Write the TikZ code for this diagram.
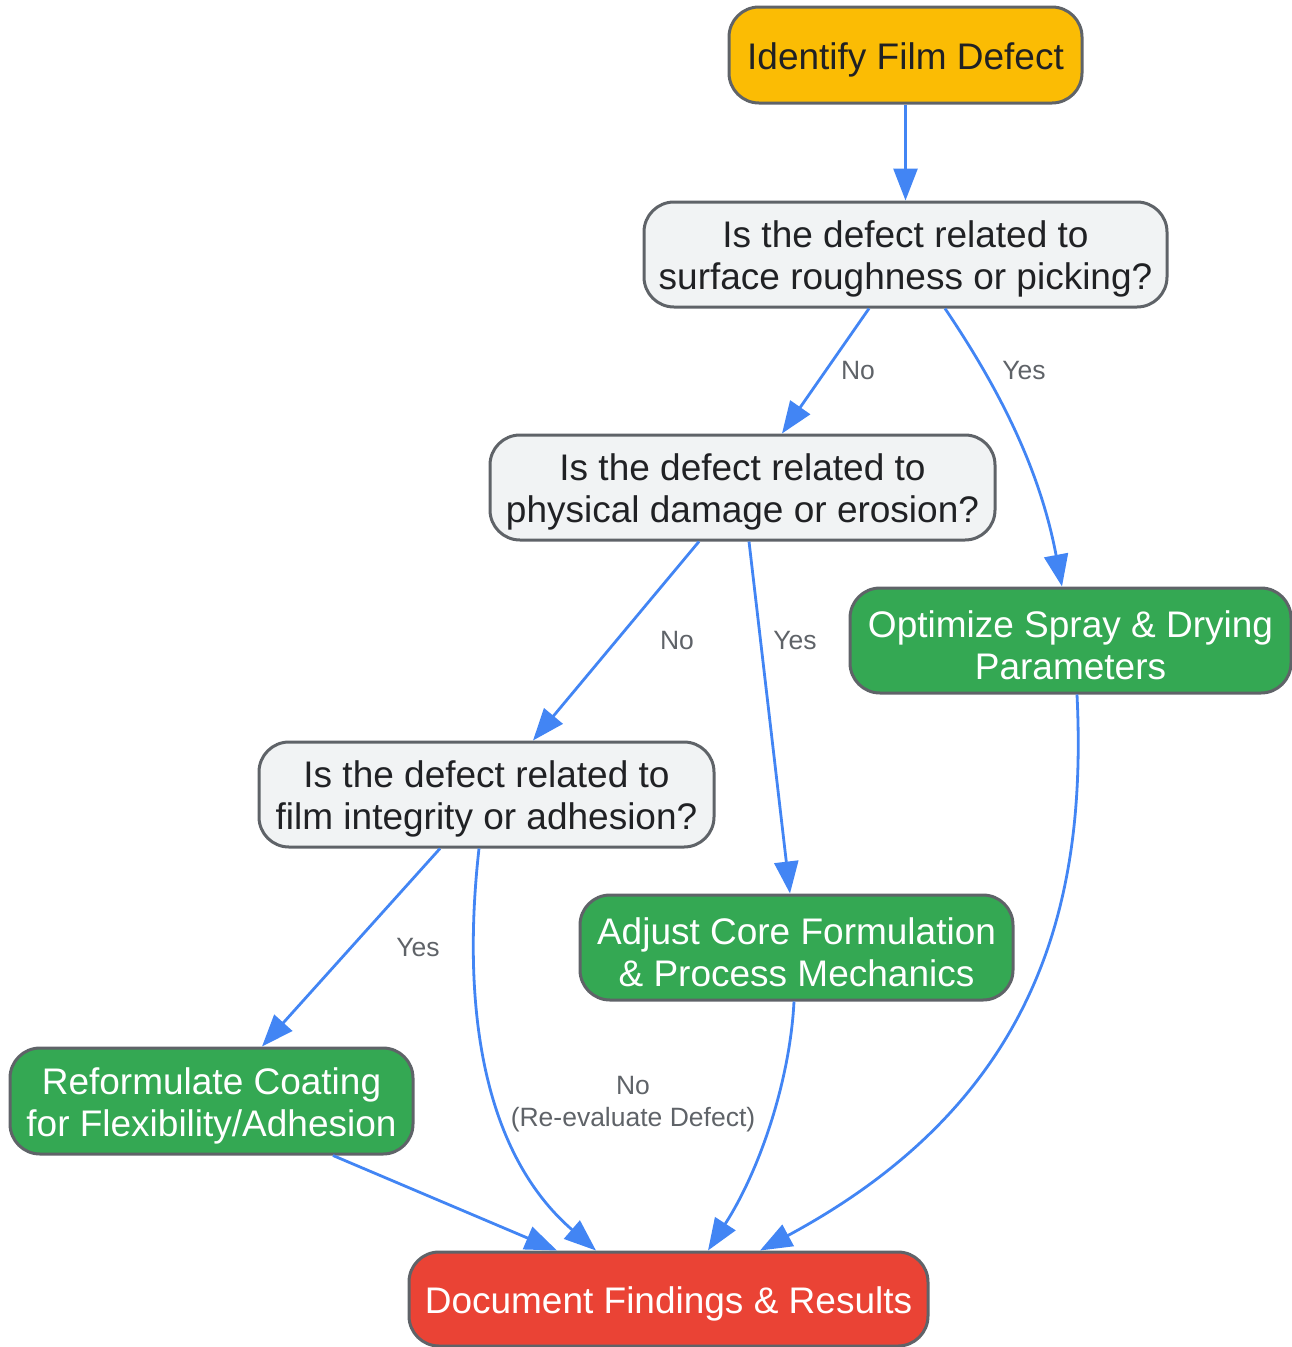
\documentclass[tikz,border=0pt]{standalone}
\usepackage{fontspec}
\setmainfont{Liberation Sans}
\usetikzlibrary{arrows.meta,calc}
\definecolor{edgeblue}{HTML}{4285F4}
\definecolor{nodegray}{HTML}{F1F3F4}
\definecolor{nodeyellow}{HTML}{FBBC04}
\definecolor{nodegreen}{HTML}{34A853}
\definecolor{nodered}{HTML}{EA4335}
\definecolor{borderc}{HTML}{5F6368}
\definecolor{textdark}{HTML}{202124}
\definecolor{labelc}{HTML}{5F6368}
\newcommand\mytopstrut{\rule{0pt}{36pt}}
\tikzset{
  box/.style={draw=borderc, line width=3pt, rounded corners=30pt, align=center,
    inner sep=0pt, font=\fontsize{37}{42}\selectfont},
  qbox/.style={box, fill=nodegray, text=textdark},
  gbox/.style={box, fill=nodegreen, text=white},
  conn/.style={draw=edgeblue, line width=2.8pt, -{Triangle[length=32pt,width=24pt]}},
  lbl/.style={text=labelc, align=center, inner sep=0pt, font=\fontsize{26.5}{32}\selectfont},
}
\begin{document}
\begin{tikzpicture}[x=1pt,y=-1pt]
\useasboundingbox (0,0) rectangle (1292,1347);
\node[box, fill=nodeyellow, text=textdark, minimum width=353pt, minimum height=96pt] (start) at (905.5,55) {\mytopstrut Identify Film Defect};
\node[qbox, minimum width=523pt, minimum height=105pt] (q1) at (905.5,254.5) {\mytopstrut Is the defect related to\\surface roughness or picking?};
\node[qbox, minimum width=505pt, minimum height=105pt] (q2) at (742.5,487.5) {\mytopstrut Is the defect related to\\physical damage or erosion?};
\node[gbox, minimum width=441pt, minimum height=105pt] (opt) at (1070.5,640.5) {\mytopstrut Optimize Spray \& Drying\\Parameters};
\node[qbox, minimum width=455pt, minimum height=105pt] (q3) at (486.5,794.5) {\mytopstrut Is the defect related to\\film integrity or adhesion?};
\node[gbox, minimum width=433pt, minimum height=105pt] (adj) at (796.5,947.5) {\mytopstrut Adjust Core Formulation\\\& Process Mechanics};
\node[gbox, minimum width=403pt, minimum height=106pt] (ref) at (211.5,1101) {\mytopstrut Reformulate Coating\\for Flexibility/Adhesion};
\node[box, fill=nodered, text=white, minimum width=519pt, minimum height=94pt] (doc) at (668.5,1299) {\mytopstrut Document Findings \& Results};

\draw[conn] (start.south) -- (q1.north);
\draw[conn] ([xshift=-36.5pt]q1.south) -- ([xshift=39.5pt]q2.north);
\draw[conn] ([xshift=39.5pt]q1.south) .. controls (1000,390) and (1040,470) .. ([xshift=-8.5pt]opt.north);
\draw[conn] ([xshift=-43.5pt]q2.south) -- ([xshift=46.5pt]q3.north);
\draw[conn] ([xshift=6.5pt]q2.south) -- ([xshift=-6.5pt]adj.north);
\draw[conn] ([xshift=6.5pt]opt.south) .. controls (1087,900) and (1040,1100) .. ([xshift=91.5pt]doc.north);
\draw[conn] ([xshift=-46.5pt]q3.south) -- ([xshift=50.5pt]ref.north);
\draw[conn] ([xshift=-7.5pt]q3.south) .. controls (462,1000) and (480,1150) .. ([xshift=-72.5pt]doc.north);
\draw[conn] ([xshift=121.5pt]ref.south) -- ([xshift=-111.5pt]doc.north);
\draw[conn] ([xshift=-2.5pt]adj.south) .. controls (790,1080) and (760,1170) .. ([xshift=39.5pt]doc.north);

\node[lbl] (l1) at (858,371) {No};
\node[lbl] (l2) at (1024,371) {Yes};
\node[lbl] (l3) at (677,641) {No};
\node[lbl] (l4) at (795,641) {Yes};
\node[lbl] (l5) at (418,948) {Yes};
\node[lbl] (l6) at (633,1104) {No\\(Re-evaluate Defect)};
\end{tikzpicture}
\end{document}
